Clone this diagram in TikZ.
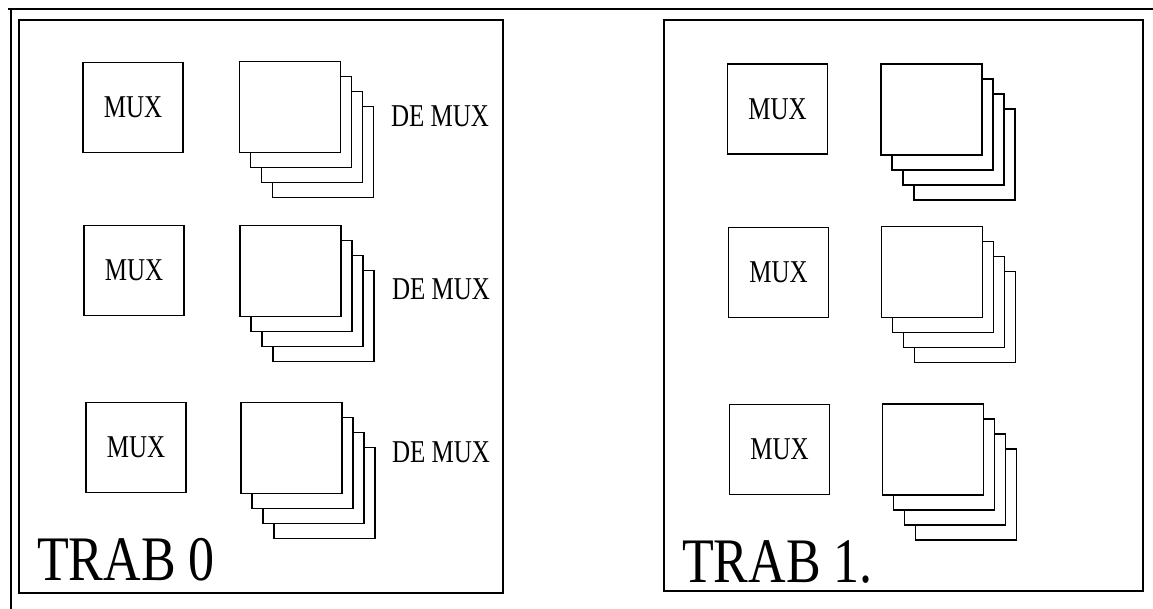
\documentclass[tikz,border=0pt]{standalone}
\usepackage{fontspec}
\usepackage{graphicx}
\setmainfont{Liberation Serif}
\newcommand{\tallt}[1]{\scalebox{1}[1.27]{#1}}
\begin{document}
\begin{tikzpicture}[x=1pt,y=-1pt,
  muxbox/.style={draw,line width=1.6pt,minimum width=100pt,minimum height=90pt,inner sep=0pt,font=\fontsize{25}{25}\selectfont},
  card/.style={draw,fill=white,line width=1.6pt,minimum width=101pt,minimum height=91pt,inner sep=0pt},
  lbl/.style={font=\fontsize{25}{25}\selectfont,inner sep=0pt},
  big/.style={font=\fontsize{52}{52}\selectfont,inner sep=0pt,anchor=base west},
  frame/.style={line width=1.2pt}]
\useasboundingbox (0,0) rectangle (1153,609);
% outer lines
\coordinate (tl) at (8,9);
\coordinate (tr) at (1153,9);
\coordinate (lt) at (11,9);
\coordinate (lb) at (11,609);
\draw[frame] (tl) -- (tr);
\draw[frame] (lt) -- (lb);
% panel frames
\draw[frame] (19,20) rectangle (503,593);
\draw[frame] (664,20) rectangle (1143,591);
% stacks, drawn back to front
\foreach \nm/\cx/\cy in {a/290/107, b/290.5/271, c/291.5/448, d/931.5/109.5, e/932/272, f/933/449.5}{
  \node[card] (\nm3) at (\cx+33,\cy+45) {};
  \node[card] (\nm2) at (\cx+22,\cy+30) {};
  \node[card] (\nm1) at (\cx+11,\cy+15) {};
  \node[card] (\nm0) at (\cx,\cy) {};
}
% MUX boxes
\node[muxbox] (m1) at (133,107.5) {\tallt{MUX}};
\node[muxbox] (m2) at (134,270.5) {\tallt{MUX}};
\node[muxbox] (m3) at (136,447.5) {\tallt{MUX}};
\node[muxbox] (n1) at (777.5,109) {\tallt{MUX}};
\node[muxbox] (n2) at (778.5,272.5) {\tallt{MUX}};
\node[muxbox] (n3) at (779.5,449.5) {\tallt{MUX}};
% DE MUX labels
\node[lbl] (d1) at (440,116) {\tallt{DE MUX}};
\node[lbl] (d2) at (441,289) {\tallt{DE MUX}};
\node[lbl] (d3) at (441,452) {\tallt{DE MUX}};
% titles
\node[big] (t0) at (37,580) {\scalebox{1}[1.22]{TRAB 0}};
\node[big] (t1) at (682,582) {\scalebox{1}[1.22]{TRAB 1.}};
\end{tikzpicture}
\end{document}
